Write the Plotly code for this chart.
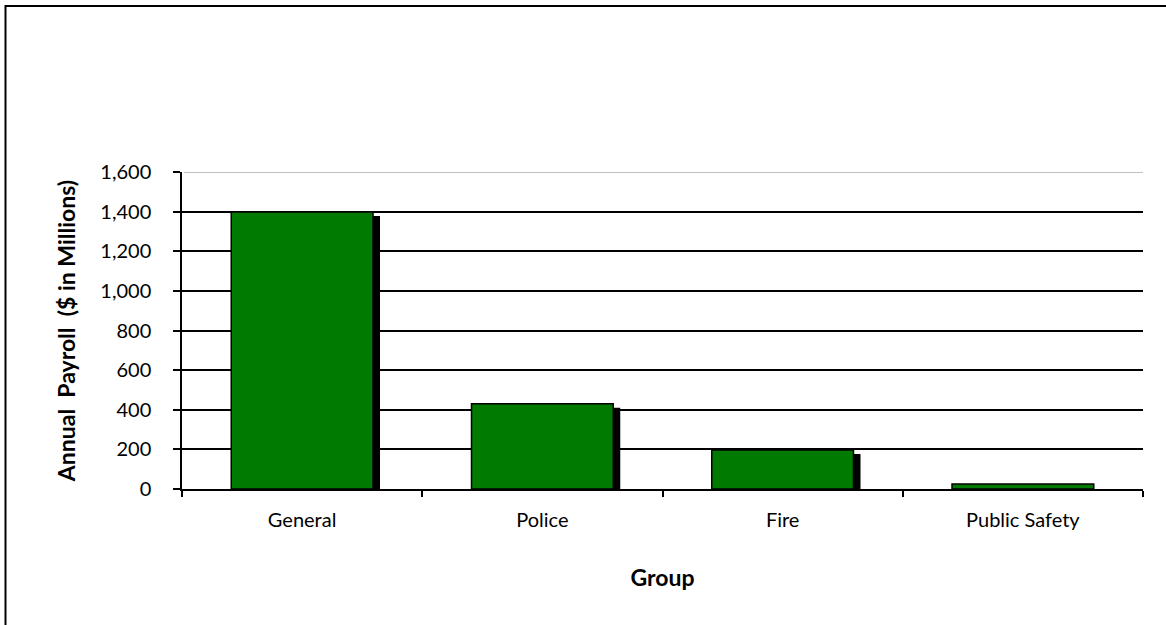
import plotly.graph_objects as go

categories = ["General", "Police", "Fire", "Public Safety"]
payroll = [1398, 430, 197, 25]
y_tick_vals = [0, 200, 400, 600, 800, 1000, 1200, 1400, 1600]
y_tick_text = ["0", "200", "400", "600", "800", "1,000", "1,200", "1,400", "1,600"]

W, H = 1166, 625
L, R, T, B = 182, 23, 172, 136
pw, ph = W - L - R, H - T - B

bar_w = 0.59
shadow_dx = 7 / (pw / len(categories))  # in category units
shadow_dy = 4 * 1600 / ph  # in data units

fig = go.Figure()
fig.add_trace(go.Bar(
    x=categories, y=[v - shadow_dy if v > 2 * shadow_dy else 0 for v in payroll],
    width=bar_w, offset=-bar_w / 2 + shadow_dx,
    marker=dict(color="black", line=dict(width=0)),
    hoverinfo="skip", showlegend=False,
))
fig.add_trace(go.Bar(
    x=categories, y=payroll,
    width=bar_w, offset=-bar_w / 2,
    marker=dict(color="#007A00", line=dict(color="black", width=1.5)),
    showlegend=False,
))

font_family = "Lato, 'Open Sans', sans-serif"
fig.update_layout(
    width=W, height=H,
    margin=dict(l=L, r=R, t=T, b=B),
    paper_bgcolor="white", plot_bgcolor="white",
    barmode="overlay",
    font=dict(family=font_family, size=20, color="black"),
    xaxis=dict(
        showline=True, linecolor="black", linewidth=1.5,
        ticks="outside", tickson="boundaries", ticklen=6, tickcolor="black", tickwidth=1.5,
        tickfont=dict(size=20), showgrid=False, ticklabelstandoff=12,
        title=dict(text="<b>Group</b>", font=dict(size=23), standoff=40),
    ),
    yaxis=dict(
        range=[0, 1600], tickvals=y_tick_vals, ticktext=y_tick_text,
        showline=True, linecolor="black", linewidth=1.5,
        ticks="outside", ticklen=7, tickcolor="black", tickwidth=1.5,
        showgrid=True, gridcolor="black", gridwidth=1.5, zeroline=False,
        tickfont=dict(size=20), ticklabelstandoff=18,
        title=dict(text="<b>Annual&nbsp; Payroll&nbsp; ($ in Millions)</b>", font=dict(size=23), standoff=18),
    ),
    shapes=[
        dict(type="line", xref="paper", yref="y", x0=0.002, x1=1, y0=1600, y1=1600,
             line=dict(color="#C0C0C0", width=2), layer="above"),
        dict(type="line", xref="paper", yref="paper",
             x0=(5.5 - L) / pw, x1=(5.5 - L) / pw, y0=1 + (T - 5) / ph, y1=-2,
             line=dict(color="black", width=2)),
        dict(type="line", xref="paper", yref="paper",
             x0=(5.5 - L) / pw, x1=2, y0=1 + (T - 6) / ph, y1=1 + (T - 6) / ph,
             line=dict(color="black", width=2)),
    ],
)

fig.write_html("out.html", config={"displayModeBar": False},
               post_script="document.body.style.margin='0';")
